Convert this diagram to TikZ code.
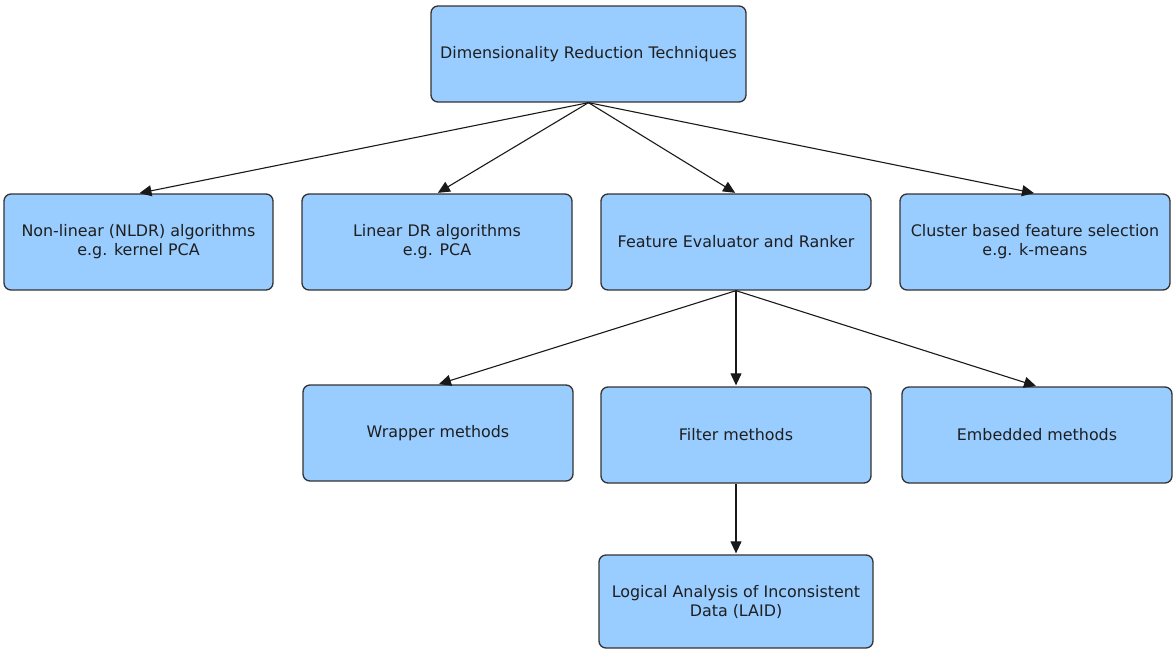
\documentclass[tikz,border=0pt]{standalone}
\usepackage{fontspec}
\setmainfont{DejaVu Sans}
\usetikzlibrary{arrows.meta}
\definecolor{boxfill}{HTML}{99CCFF}
\definecolor{edge}{HTML}{333333}
\tikzset{
  box/.style={draw=edge, line width=1.3pt, fill=boxfill, rounded corners=7pt,
    align=center, inner sep=0pt, text=black!88,
    font=\fontsize{15.9}{19}\selectfont},
  link/.style={draw=black!90, line width=1.1pt,
    -{Triangle[length=12pt,width=11pt]}, shorten >=1pt}
}
\begin{document}
\begin{tikzpicture}[x=1pt,y=-1pt]
\useasboundingbox (0,0) rectangle (1173,651);
% top level
\node[box, minimum width=315pt, minimum height=96pt] (top) at (588.5,54) {Dimensionality Reduction Techniques};
% first row
\node[box, minimum width=269pt, minimum height=96pt] (nldr) at (138.5,242) {Non-linear (NLDR) algorithms\\e.g. kernel PCA};
\node[box, minimum width=270pt, minimum height=96pt] (lin) at (437,242) {Linear DR algorithms\\e.g. PCA};
\node[box, minimum width=270pt, minimum height=96pt] (fer) at (736,242) {Feature Evaluator and Ranker};
\node[box, minimum width=270pt, minimum height=96pt] (clu) at (1035,242) {Cluster based feature selection\\e.g. k-means};
% second row
\node[box, minimum width=270pt, minimum height=96pt] (wrap) at (438,433) {Wrapper methods};
\node[box, minimum width=270pt, minimum height=96pt] (filt) at (736,435) {Filter methods};
\node[box, minimum width=270pt, minimum height=96pt] (emb) at (1037,435) {Embedded methods};
% third row
\node[box, minimum width=274pt, minimum height=93pt] (laid) at (736,601.5) {Logical Analysis of Inconsistent\\Data (LAID)};
% connectors
\draw[link] (top.south) -- (nldr.north);
\draw[link] (top.south) -- (lin.north);
\draw[link] (top.south) -- (fer.north);
\draw[link] (top.south) -- (clu.north);
\draw[link] (fer.south) -- (wrap.north);
\draw[link] (fer.south) -- (filt.north);
\draw[link] (fer.south) -- (emb.north);
\draw[link] (filt.south) -- (laid.north);
\end{tikzpicture}
\end{document}
